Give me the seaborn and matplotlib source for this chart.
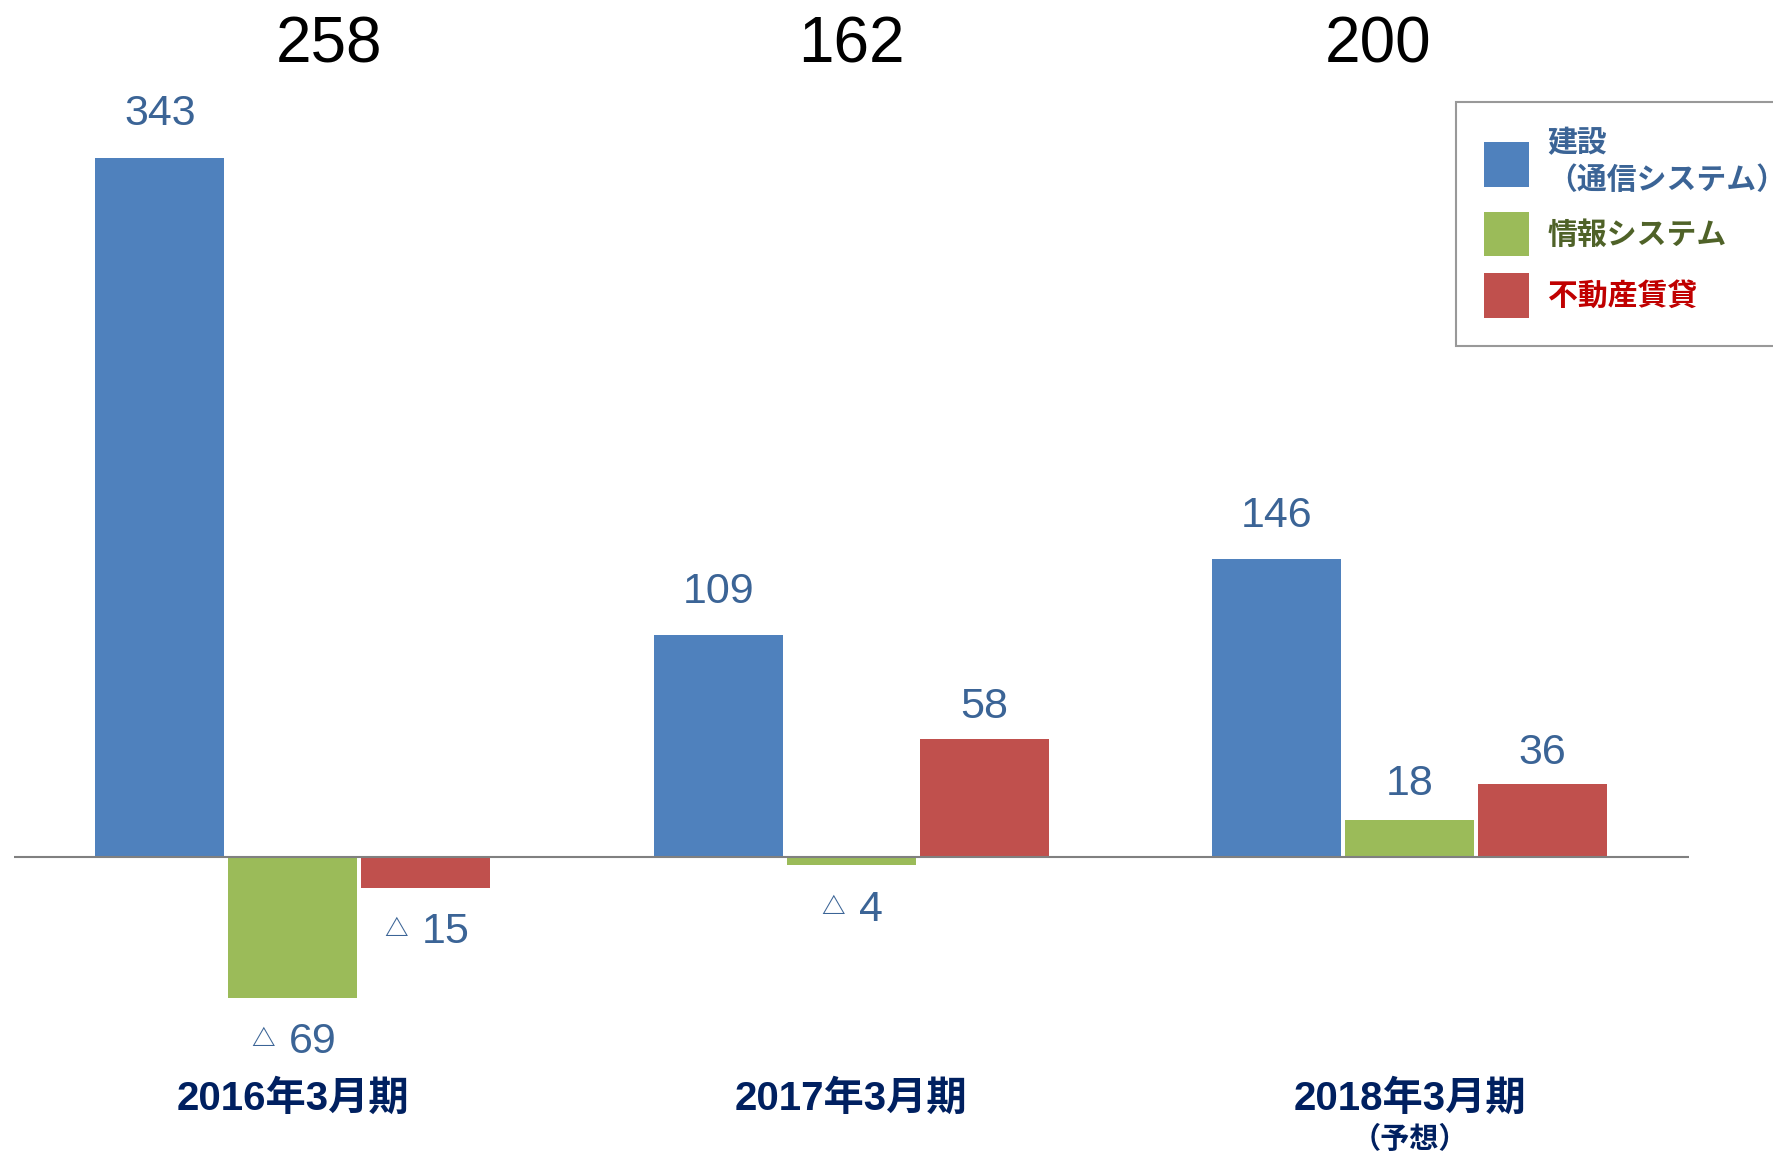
import matplotlib
matplotlib.use("Agg")
import matplotlib.pyplot as plt
import matplotlib.transforms as mtransforms
import seaborn as sns
import pandas as pd

# ---- data ----
periods = ["2016年3月期", "2017年3月期", "2018年3月期"]
period_sub = ["", "", "（予想）"]
segments = ["建設\n（通信システム）", "情報システム", "不動産賃貸"]
construction = [343, 109, 146]
info_system = [-69, -4, 18]
real_estate = [-15, 58, 36]
totals = [258, 162, 200]

# ---- style ----
seg_colors = ["#4F81BD", "#9BBB59", "#C0504D"]
legend_text_colors = ["#3B6496", "#4F6228", "#C00000"]
label_color = "#3B6496"
tick_color = "#002060"
total_dx_pt = [26, 0, -23]          # horizontal nudge of the total labels
pos_label_gap_pt = [[32, 31, 31], [31, 21, 23], [31, 26, 22]]  # [period][segment]

rows = []
for i, p in enumerate(periods):
    for s, vals in zip(segments, [construction, info_system, real_estate]):
        rows.append({"period": p, "segment": s, "value": vals[i]})
df = pd.DataFrame(rows)

sns.set_theme(style="white")
plt.rcParams["font.family"] = ["Liberation Sans", "Noto Sans CJK JP", "DejaVu Sans"]

fig = plt.figure(figsize=(17.73, 11.51), dpi=100)
W, H = 1773, 1151
ax = fig.add_axes([13.6 / W, 1 - 1100 / H, (1689 - 13.6) / W, 1090 / H])

sns.barplot(data=df, x="period", y="value", hue="segment", order=periods,
            hue_order=segments, palette=seg_colors, width=0.714, gap=0.03,
            linewidth=0, saturation=1, ax=ax)

ax.set_xlim(-0.5, 2.5)
ax.set_ylim(-119.2, 415.6)
for sp in ax.spines.values():
    sp.set_visible(False)
ax.set_xticks([])
ax.set_yticks([])
ax.set_xlabel("")
ax.set_ylabel("")
ax.axhline(0, color="#808080", lw=1.5, zorder=5)

# value labels
for j, cont in enumerate(ax.containers):
    for i, bar in enumerate(cont):
        v = bar.get_height()
        xc = bar.get_x() + bar.get_width() / 2
        if v >= 0:
            ax.annotate(f"{v:g}", (xc, v), xytext=(0, pos_label_gap_pt[i][j]),
                        textcoords="offset points", ha="center", va="center",
                        fontsize=31, color=label_color)
        else:
            s = f"{abs(v):g}"
            nd = len(s)
            num_left = 14.5 - nd * 8.6
            ax.annotate(s, (xc, v), xytext=(num_left, -32),
                        textcoords="offset points", ha="left", va="center",
                        fontsize=31, color=label_color)
            ax.annotate("△", (xc, v), xytext=(num_left - 19, -30),
                        textcoords="offset points", ha="center", va="center",
                        fontsize=17, fontweight="bold", color=label_color,
                        family=["Noto Sans CJK JP", "DejaVu Sans"])

# totals
trans = mtransforms.blended_transform_factory(ax.transData, ax.transAxes)
for i, t in enumerate(totals):
    ax.annotate(f"{t}", (i, 0.9697), xycoords=trans, xytext=(total_dx_pt[i], -2),
                textcoords="offset points", ha="center", va="center",
                fontsize=46, color="black")

# category labels
for i, (p, sub) in enumerate(zip(periods, period_sub)):
    ax.text(i, 0.0015, p, transform=trans, ha="center", va="center",
            fontsize=29, fontweight="bold", color=tick_color, clip_on=False)
    if sub:
        ax.text(i, -0.037, sub, transform=trans, ha="center", va="center",
                fontsize=21, fontweight="bold", color=tick_color, clip_on=False)

# legend
handles, labels = ax.get_legend_handles_labels()
leg = ax.legend(handles, labels, loc="upper left",
                bbox_to_anchor=(1456 / W, 1 - 102 / H),
                bbox_transform=fig.transFigure, borderaxespad=0,
                prop={"weight": "bold", "size": 21.5},
                handlelength=1.5, handleheight=1.93, handletextpad=0.62,
                labelspacing=0.55, borderpad=0.95, frameon=True, fancybox=False)
leg.get_frame().set_edgecolor("#808080")
leg.get_frame().set_linewidth(1.5)
for txt, c in zip(leg.get_texts(), legend_text_colors):
    txt.set_color(c)
    txt.set_linespacing(1.35)

fig.savefig("out.png", dpi=100)
